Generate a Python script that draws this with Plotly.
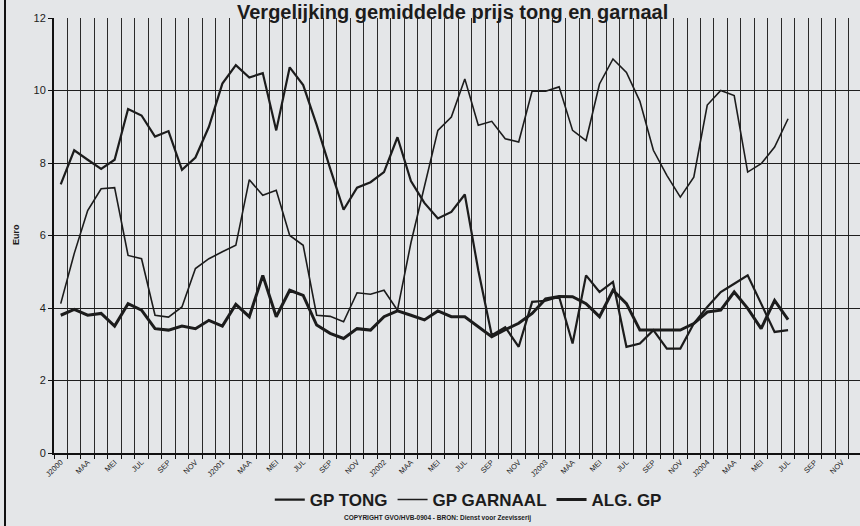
import plotly.graph_objects as go

# Monthly values, Jan 2000 .. Jul 2004 (Euro)
gp_tong = [7.41, 8.35, 8.09, 7.84, 8.09, 9.49, 9.31, 8.73, 8.88, 7.81,
           8.15, 9.00, 10.19, 10.70, 10.36, 10.48, 8.90, 10.64, 10.15, 9.05,
           7.85, 6.71, 7.32, 7.47, 7.75, 8.71, 7.50, 6.90, 6.47, 6.65,
           7.13, 5.04, 3.25, 3.47, 2.93, 4.17, 4.20, 4.31, 3.02, 4.90,
           4.44, 4.72, 2.93, 3.02, 3.39, 2.88, 2.88, 3.57, 4.03, 4.44,
           4.67, 4.90, 4.12, 3.34, 3.39]
gp_garnaal = [4.12, 5.50, 6.69, 7.29, 7.32, 5.45, 5.36, 3.80, 3.75, 4.03,
              5.09, 5.36, 5.55, 5.73, 7.54, 7.11, 7.25, 6.00, 5.73, 3.80,
              3.77, 3.62, 4.42, 4.38, 4.49, 3.94, 5.80, 7.37, 8.90, 9.27,
              10.32, 9.04, 9.15, 8.67, 8.58, 9.99, 9.98, 10.10, 8.90, 8.62,
              10.18, 10.87, 10.50, 9.70, 8.35, 7.66, 7.06, 7.61, 9.60, 10.00,
              9.86, 7.75, 7.98, 8.44, 9.22]
alg_gp = [3.80, 3.96, 3.80, 3.85, 3.50, 4.12, 3.94, 3.43, 3.39, 3.50,
          3.43, 3.66, 3.50, 4.10, 3.76, 4.90, 3.76, 4.49, 4.35, 3.53,
          3.30, 3.16, 3.43, 3.39, 3.76, 3.92, 3.80, 3.67, 3.92, 3.76,
          3.76, 3.48, 3.21, 3.40, 3.58, 3.85, 4.25, 4.32, 4.31, 4.12,
          3.76, 4.49, 4.12, 3.39, 3.39, 3.39, 3.39, 3.57, 3.89, 3.94,
          4.44, 3.99, 3.43, 4.21, 3.68]

tick_labels = ["J2000", "MAA", "MEI", "JUL", "SEP", "NOV",
               "J2001", "MAA", "MEI", "JUL", "SEP", "NOV",
               "J2002", "MAA", "MEI", "JUL", "SEP", "NOV",
               "J2003", "MAA", "MEI", "JUL", "SEP", "NOV",
               "J2004", "MAA", "MEI", "JUL", "SEP", "NOV"]
n_months = 60

x = list(range(len(gp_tong)))
ink = "#1c1c1c"
bg = "#e4e6e8"

fig = go.Figure()
fig.add_trace(go.Scatter(x=x, y=gp_tong, name="<b>GP TONG</b>", mode="lines",
                         line=dict(color=ink, width=2.2)))
fig.add_trace(go.Scatter(x=x, y=gp_garnaal, name="<b>GP GARNAAL</b>", mode="lines",
                         line=dict(color=ink, width=1.6)))
fig.add_trace(go.Scatter(x=x, y=alg_gp, name="<b>ALG. GP</b>", mode="lines",
                         line=dict(color=ink, width=3)))

fig.update_layout(
    width=860, height=526,
    margin=dict(l=54, r=0, t=18, b=73),
    paper_bgcolor=bg, plot_bgcolor=bg,
    font=dict(family="Arial, Liberation Sans, sans-serif", color=ink),
    showlegend=True,
    legend=dict(orientation="h", x=0.514, xanchor="center", y=-0.108, yanchor="middle",
                font=dict(size=17, color=ink), bgcolor="rgba(0,0,0,0)",
                itemwidth=30, tracegroupgap=0),
)

fig.update_xaxes(
    range=[-0.5, 59.34],
    tickmode="array",
    tickvals=list(range(0, n_months, 2)),
    ticktext=tick_labels,
    tickangle=-45,
    tickfont=dict(size=7.5, family="Liberation Sans Narrow, Arial Narrow, Arial", color=ink),
    ticks="", showgrid=False, zeroline=False,
    showline=True, linecolor="#111", linewidth=2,
    minor=dict(tick0=-0.5, dtick=1, ticks="outside", ticklen=4, tickcolor="#111",
               tickwidth=1, showgrid=True, gridcolor="#2a2a2a", gridwidth=1),
)
fig.update_yaxes(
    range=[0, 12], dtick=2,
    tickfont=dict(size=11, color=ink),
    ticks="outside", ticklen=4, tickcolor="#111",
    showgrid=True, gridcolor="#1e1e1e", gridwidth=1.2,
    zeroline=False, showline=True, linecolor="#111", linewidth=2,
)

fig.add_annotation(text="<b>Vergelijking gemiddelde prijs tong en garnaal</b>",
                   xref="paper", yref="paper", x=(452 - 54) / 806, y=453 / 435,
                   xanchor="center", yanchor="top", showarrow=False, borderpad=0,
                   font=dict(size=20, color=ink))
fig.add_annotation(text="<b>Euro</b>", textangle=-90,
                   xref="paper", yref="paper", x=(16 - 54) / 806, y=(453 - 235) / 435,
                   xanchor="center", yanchor="middle", showarrow=False,
                   font=dict(size=9, color=ink))
fig.add_annotation(text="<b>COPYRIGHT GVO/HVB-0904 - BRON: Dienst voor Zeevisserij</b>",
                   xref="paper", yref="paper", x=(437 - 54) / 806, y=(453 - 518) / 435,
                   xanchor="center", yanchor="middle", showarrow=False,
                   font=dict(size=6.5, color=ink))
fig.add_shape(type="line", xref="paper", yref="paper",
              x0=(5 - 54) / 806, x1=(5 - 54) / 806, y0=-0.2, y1=1.1,
              line=dict(color="#111", width=2))

fig.write_html("out.html", config={"displayModeBar": False},
               post_script="document.body.style.margin='0';document.body.style.overflow='hidden';")
